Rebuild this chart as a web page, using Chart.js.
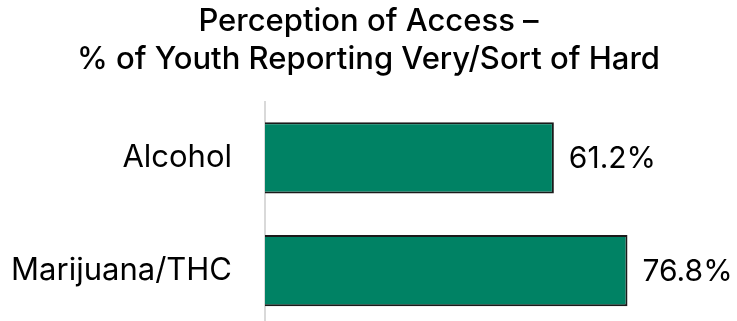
<!DOCTYPE html>
<html>
<head>
<meta charset="utf-8">
<script src="https://cdn.jsdelivr.net/npm/chart.js@4"></script>
<style>
html,body{margin:0;padding:0;background:#fff;overflow:hidden;}
#wrap{width:737px;height:321px;overflow:hidden;position:relative;}
canvas{position:absolute;left:0;top:0;}
</style>
</head>
<body>
<div id="wrap"><canvas id="c" width="737" height="327" style="width:737px;height:327px"></canvas></div>
<script>
const categories = ["Alcohol", "Marijuana/THC"];
const values = [61.2, 76.8];
const titleLines = ["Perception of Access \u2013", "% of Youth Reporting Very/Sort of Hard"];

const FONT = "Inter, 'Open Sans', sans-serif";

const valueLabels = {
  id: 'valueLabels',
  afterDatasetsDraw(chart) {
    const ctx = chart.ctx;
    const meta = chart.getDatasetMeta(0);
    ctx.save();
    ctx.font = "30px " + FONT;
    ctx.fillStyle = "#000";
    ctx.textAlign = "left";
    ctx.textBaseline = "middle";
    meta.data.forEach((bar, i) => {
      ctx.fillText(values[i].toFixed(1) + "%", bar.x + 15, bar.y + 1);
    });
    ctx.restore();
  }
};

new Chart(document.getElementById('c'), {
  type: 'bar',
  data: {
    labels: categories,
    datasets: [{
      data: values,
      backgroundColor: '#008264',
      borderColor: '#1a1a1a',
      borderWidth: 2,
      borderSkipped: 'left',
      barPercentage: 0.63,
      categoryPercentage: 1.0
    }]
  },
  options: {
    indexAxis: 'y',
    responsive: false,
    animation: false,
    devicePixelRatio: 1,
    layout: { autoPadding: false, padding: { left: 0, right: 0, top: 2, bottom: 0 } },
    plugins: {
      legend: { display: false },
      tooltip: { enabled: false },
      title: {
        display: true,
        text: titleLines,
        color: '#000',
        font: { family: FONT, size: 31, weight: '500', lineHeight: 1.25 },
        padding: { top: 0, bottom: 22 }
      }
    },
    scales: {
      x: { display: false, min: 0, max: 100 },
      y: {
        afterFit(scale) { scale.width = 265; scale.paddingTop = 0; scale.paddingBottom = 0; },
        grid: { display: false, drawTicks: false },
        border: { display: true, color: '#d9d9d9', width: 2 },
        ticks: { color: '#000', padding: 33, font: { family: FONT, size: 31 } }
      }
    }
  },
  plugins: [valueLabels]
});
</script>
</body>
</html>
